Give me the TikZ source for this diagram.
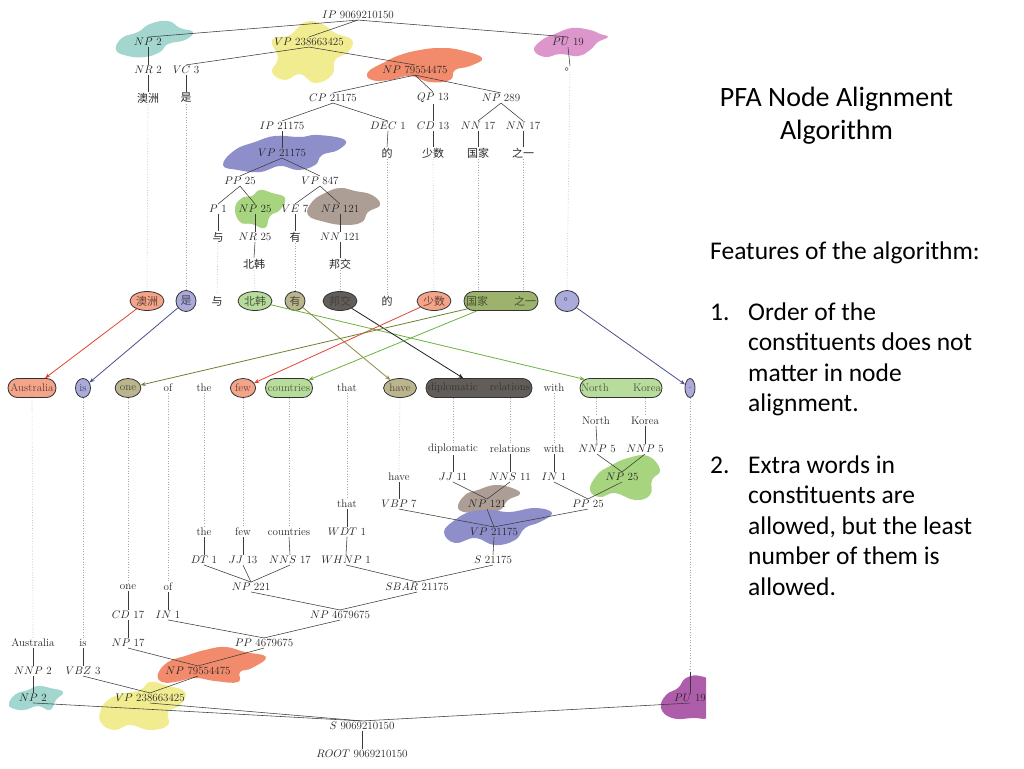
\documentclass[tikz,border=0pt]{standalone}
\usepackage{fontspec}
\newfontfamily\cjk{Noto Sans CJK SC}
\newfontfamily\calib{Carlito}
\usetikzlibrary{arrows.meta,shapes.geometric,shapes.misc}
\definecolor{cTeal}{HTML}{A2D6CE}
\definecolor{cYel}{HTML}{F2EC91}
\definecolor{cOra}{HTML}{F28B6C}
\definecolor{cPink}{HTML}{DC96CB}
\definecolor{cPur}{HTML}{8E8ECA}
\definecolor{cGrn}{HTML}{A7D47E}
\definecolor{cBrn}{HTML}{AD9E95}
\definecolor{cMag}{HTML}{AE5DAA}
\definecolor{eSal}{HTML}{F4A489}
\definecolor{ePur}{HTML}{ABABDB}
\definecolor{eLgr}{HTML}{B8DC9C}
\definecolor{eKha}{HTML}{BAB58D}
\definecolor{eDk}{HTML}{625D58}
\definecolor{eOg}{HTML}{9DB26C}
\definecolor{aRed}{HTML}{E5432F}
\definecolor{aNavy}{HTML}{4D4D8C}
\definecolor{aGrn}{HTML}{6CB23E}
\definecolor{aOl}{HTML}{8C8A45}
\definecolor{aBlk}{HTML}{1E1E1E}
\definecolor{aOg}{HTML}{6F8030}
\definecolor{treeC}{HTML}{3A3A3A}
\definecolor{dotC}{HTML}{A8A8A8}
\tikzset{
  lab/.style={font=\fontsize{11}{13}\selectfont, inner sep=1pt, text=black!85},
  zh/.style={font=\cjk\fontsize{11}{13}\selectfont, inner sep=1pt, text=black!85},
  tr/.style={draw=treeC, line width=0.55pt},
  dt/.style={draw=dotC, dotted, line width=0.6pt},
  hl/.style={draw=black!80, line width=0.8pt, ellipse, inner sep=0pt, minimum height=19pt},
  hlr/.style={draw=black!80, line width=0.8pt, rounded rectangle, inner sep=0pt, minimum height=19pt},
  ar/.style={line width=0.8pt, -{Stealth[length=5pt,width=4pt]}},
  blob/.style={smooth cycle, tension=0.75},
  rt/.style={font=\calib\fontsize{25.5}{30}\selectfont, anchor=base west, inner sep=0pt},
  ttl/.style={font=\calib\fontsize{28}{33}\selectfont, anchor=base, inner sep=0pt}
}
\begin{document}
\begin{tikzpicture}[x=1pt,y=-1pt]
\useasboundingbox (0,0) rectangle (1024,768);
\fill[white] (0,0) rectangle (1024,768);

% ---------- blobs (top tree)
\fill[cTeal] plot[blob] coordinates {(116,50) (122,38) (138,32) (150,24) (168,21) (180,28) (193,32) (185,40) (168,44) (160,52) (145,57) (128,56)};
\fill[cYel] plot[blob] coordinates {(272,40) (290,35) (305,22) (322,24) (335,33) (352,40) (348,52) (335,60) (332,75) (315,83) (300,74) (285,80) (272,72) (278,58)};
\fill[cOra] plot[blob] coordinates {(368,72) (385,62) (400,55) (420,50) (440,48) (460,50) (482,58) (470,66) (455,70) (450,80) (430,82) (410,76) (390,80) (372,80)};
\fill[cPink] plot[blob] coordinates {(534,50) (542,40) (555,34) (572,28) (590,30) (600,34) (608,37) (598,42) (590,50) (578,56) (560,54) (545,57)};
\fill[cPur] plot[blob] coordinates {(223,165) (235,150) (255,142) (275,136) (300,137) (318,135) (345,140) (338,150) (322,155) (315,165) (298,170) (280,166) (260,172) (238,170)};
\fill[cGrn] plot[blob] coordinates {(235,208) (242,198) (252,196) (260,190) (272,193) (285,198) (280,210) (270,216) (265,228) (252,224) (240,222)};
\fill[cBrn] plot[blob] coordinates {(308,215) (312,202) (325,193) (340,188) (355,191) (372,195) (380,205) (368,212) (362,222) (345,225) (325,222)};
% ---------- blobs (bottom tree)
\fill[cGrn] plot[blob] coordinates {(590,490) (597,475) (610,466) (628,458) (648,456) (660,470) (652,480) (650,495) (635,500) (615,493) (600,497)};
\fill[cBrn] plot[blob] coordinates {(458,508) (465,495) (478,490) (495,485) (512,488) (520,494) (508,500) (500,510) (485,512) (470,513)};
\fill[cPur] plot[blob] coordinates {(444,532) (455,520) (470,512) (490,510) (510,512) (535,508) (552,513) (540,522) (525,528) (515,540) (495,545) (475,538) (455,543)};
\fill[cOra] plot[blob] coordinates {(158,674) (168,662) (185,656) (205,650) (225,647) (245,652) (266,657) (252,668) (240,672) (238,682) (215,681) (195,678) (175,682) (162,682)};
\fill[cTeal] plot[blob] coordinates {(9,703) (16,694) (28,690) (38,686) (50,688) (63,692) (56,700) (50,710) (38,706) (24,710) (12,708)};
\fill[cYel] plot[blob] coordinates {(100,712) (108,700) (122,694) (140,690) (150,682) (165,685) (185,692) (180,705) (168,712) (168,725) (150,730) (130,725) (115,730) (102,724)};
\begin{scope}
\clip (0,0) rectangle (706,768);
\fill[cMag] plot[blob] coordinates {(661,708) (666,695) (678,688) (686,678) (700,676) (712,685) (712,715) (692,718) (672,718)};
\node[lab] (bPU) at (690,698) {$PU$ 19};
\end{scope}

% ---------- top tree
\node[lab] (tIP) at (358,15) {$IP$ 9069210150};
\node[lab] (tNP2) at (148,42) {$NP$ 2};
\node[lab] (tVP) at (309,42) {$VP$ 238663425};
\node[lab] (tPU) at (568,42) {$PU$ 19};
\node[lab] (tNR) at (148,70) {$NR$ 2};
\node[lab] (tVC) at (186,70) {$VC$ 3};
\node[lab] (tNP795) at (415,70) {$NP$ 79554475};
\node[zh] (tPer) at (570,69) {。};
\node[zh] (tAo) at (148,98) {澳洲};
\node[zh] (tShi) at (186,98) {是};
\node[lab] (tCP) at (333,98) {$CP$ 21175};
\node[lab] (tQP) at (433,98) {$QP$ 13};
\node[lab] (tNP289) at (501,98) {$NP$ 289};
\node[lab] (tIP2) at (282,126) {$IP$ 21175};
\node[lab] (tDEC) at (388,126) {$DEC$ 1};
\node[lab] (tCD) at (433,126) {$CD$ 13};
\node[lab] (tNN1) at (478,126) {$NN$ 17};
\node[lab] (tNN2) at (523,126) {$NN$ 17};
\node[lab] (tVP2) at (282,153) {$VP$ 21175};
\node[zh] (tDe) at (387,153) {的};
\node[zh] (tShao) at (433,153) {少数};
\node[zh] (tGuo) at (478,153) {国家};
\node[zh] (tZhi) at (523,153) {之一};
\node[lab] (tPP) at (240,181) {$PP$ 25};
\node[lab] (tVP847) at (320,181) {$VP$ 847};
\node[lab] (tP) at (218,209) {$P$ 1};
\node[lab] (tNP25) at (255,209) {$NP$ 25};
\node[lab] (tVE) at (295,209) {$VE$ 7};
\node[lab] (tNP121) at (340,209) {$NP$ 121};
\node[zh] (tYu) at (218,237) {与};
\node[lab] (tNR25) at (255,237) {$NR$ 25};
\node[zh] (tYou) at (295,237) {有};
\node[lab] (tNN121) at (340,237) {$NN$ 121};
\node[zh] (tBei) at (254,264) {北韩};
\node[zh] (tBang) at (340,264) {邦交};

\foreach \p/\c in {tIP/tNP2,tIP/tVP,tIP/tPU,tNP2/tNR,tNR/tAo,tVP/tVC,tVP/tNP795,tVC/tShi,
  tNP795/tCP,tNP795/tQP,tNP795/tNP289,tCP/tIP2,tCP/tDEC,tQP/tCD,tNP289/tNN1,tNP289/tNN2,
  tIP2/tVP2,tDEC/tDe,tCD/tShao,tNN1/tGuo,tNN2/tZhi,tVP2/tPP,tVP2/tVP847,tPP/tP,tPP/tNP25,
  tVP847/tVE,tVP847/tNP121,tP/tYu,tNP25/tNR25,tVE/tYou,tNP121/tNN121,tNR25/tBei,tNN121/tBang,tPU/tPer}
  \draw[tr] (\p.south) -- (\c.north);

% ---------- middle Chinese row
\node[hl, zh, fill=eSal, minimum width=31pt, text=eSal!40!black] (mAo) at (147,301) {澳洲};
\node[hl, zh, fill=ePur, minimum width=20pt, minimum height=21pt, text=ePur!40!black] (mShi) at (186,301) {是};
\node[zh] (mYu) at (217,301) {与};
\node[hl, zh, fill=eLgr, minimum width=32pt, text=eLgr!40!black] (mBei) at (255,301) {北韩};
\node[hl, zh, fill=eKha, minimum width=20pt, text=eKha!40!black] (mYou) at (295,301) {有};
\node[hl, zh, fill=eDk, minimum width=32pt, text=black!75] (mBang) at (340,301) {邦交};
\node[zh] (mDe) at (387,301) {的};
\node[hl, zh, fill=eSal, minimum width=31pt, text=eSal!40!black] (mShao) at (434,301) {少数};
\node[hlr, zh, fill=eOg, minimum width=76pt, text=eOg!45!black] (mGZ) at (501,301) {\makebox[70pt]{国家\hfill 之一}};
\node[hl, zh, fill=ePur, minimum width=14pt, minimum height=21pt, text=ePur!40!black] (mPer) at (567,301) {\hspace{4pt}\raisebox{3pt}{。}};

% ---------- English row
\node[hlr, lab, fill=eSal, minimum width=50pt, text=eSal!40!black] (eAus) at (32,388) {Australia};
\node[hl, lab, fill=ePur, minimum width=15pt, text=ePur!40!black] (eIs) at (83,388) {is};
\node[hl, lab, fill=eKha, minimum width=23pt, text=eKha!40!black] (eOne) at (128,388) {one};
\node[lab] (eOf) at (168,388) {of};
\node[lab] (eThe) at (204,388) {the};
\node[hl, lab, fill=eSal, minimum width=22pt, text=eSal!40!black] (eFew) at (243,388) {few};
\node[hlr, lab, fill=eLgr, minimum width=49pt, text=eLgr!40!black] (eCou) at (289,388) {countries};
\node[lab] (eThat) at (347,388) {that};
\node[hl, lab, fill=eKha, minimum width=28pt, text=eKha!40!black] (eHave) at (400,388) {have};
\node[hlr, lab, fill=eDk, minimum width=108pt, text=black!80] (eDR) at (479,388) {\makebox[102pt]{diplomatic\hfill relations}};
\node[lab] (eWith) at (554,388) {with};
\node[hlr, lab, fill=eLgr, minimum width=84pt, text=eLgr!40!black] (eNK) at (621,388) {\makebox[80pt]{North\hfill Korea}};
\node[hl, lab, fill=ePur, minimum width=10pt, text=ePur!40!black] (eDot) at (690,388) {.};

% ---------- dotted guides top -> middle
\foreach \a/\b in {tAo/mAo,tShi/mShi,tYu/mYu,tBei/mBei,tYou/mYou,tBang/mBang,tDe/mDe,tShao/mShao,tPer/mPer}
  \draw[dt] (\a.south) -- (\b.north);
\draw[dt] (tGuo.south) -- (tGuo.south |- mGZ.north);
\draw[dt] (tZhi.south) -- (tZhi.south |- mGZ.north);

% ---------- alignment arrows
\draw[ar, aRed] (mAo) -- (eAus);
\draw[ar, aNavy] (mShi) -- (eIs);
\draw[ar, aGrn] (mBei) -- (eNK);
\draw[ar, aOl] (mYou) -- (eHave);
\draw[ar, aBlk] (mBang) -- (eDR);
\draw[ar, aRed] (mShao) -- (eFew);
\draw[ar, aOg] (mGZ) -- (eOne);
\draw[ar, aGrn] (mGZ) -- (eCou);
\draw[ar, aNavy] (mPer) -- (eDot);

% ---------- bottom tree
\node[lab] (bNorth) at (596,421) {North};
\node[lab] (bKorea) at (645,421) {Korea};
\node[lab] (bDip) at (453,449) {diplomatic};
\node[lab] (bRel) at (510,449) {relations};
\node[lab] (bWith) at (554,449) {with};
\node[lab] (bNNP1) at (597,449) {$NNP$ 5};
\node[lab] (bNNP2) at (645,449) {$NNP$ 5};
\node[lab] (bHave) at (399,477) {have};
\node[lab] (bJJ) at (453,477) {$JJ$ 11};
\node[lab] (bNNS) at (510,477) {$NNS$ 11};
\node[lab] (bIN) at (554,477) {$IN$ 1};
\node[lab] (bNP25) at (622,477) {$NP$ 25};
\node[lab] (bThat) at (347,504) {that};
\node[lab] (bVBP) at (399,504) {$VBP$ 7};
\node[lab] (bNP121) at (487,504) {$NP$ 121};
\node[lab] (bPP) at (588,504) {$PP$ 25};
\node[lab] (bThe) at (204,532) {the};
\node[lab] (bFew) at (243,532) {few};
\node[lab] (bCou) at (289,532) {countries};
\node[lab] (bWDT) at (347,532) {$WDT$ 1};
\node[lab] (bVP) at (494,532) {$VP$ 21175};
\node[lab] (bDT) at (204,560) {$DT$ 1};
\node[lab] (bJJ13) at (243,560) {$JJ$ 13};
\node[lab] (bNNS17) at (290,560) {$NNS$ 17};
\node[lab] (bWHNP) at (346,560) {$WHNP$ 1};
\node[lab] (bS2) at (493,560) {$S$ 21175};
\node[lab] (bOne) at (128,587) {one};
\node[lab] (bOf) at (168,587) {of};
\node[lab] (bNP221) at (251,587) {$NP$ 221};
\node[lab] (bSBAR) at (417,587) {$SBAR$ 21175};
\node[lab] (bCD) at (128,615) {$CD$ 17};
\node[lab] (bIN1) at (168,615) {$IN$ 1};
\node[lab] (bNP467) at (340,615) {$NP$ 4679675};
\node[lab] (bAus) at (33,643) {Australia};
\node[lab] (bIs) at (83,643) {is};
\node[lab] (bNP17) at (128,643) {$NP$ 17};
\node[lab] (bPP467) at (264,643) {$PP$ 4679675};
\node[lab] (bNNP2a) at (33,671) {$NNP$ 2};
\node[lab] (bVBZ) at (83,671) {$VBZ$ 3};
\node[lab] (bNP795) at (198,671) {$NP$ 79554475};
\node[lab, text=aRed!60!black] (bDot) at (690,670) {.};
\node[lab] (bNP2) at (33,698) {$NP$ 2};
\node[lab] (bVP238) at (150,698) {$VP$ 238663425};
\node[lab] (bS) at (362,726) {$S$ 9069210150};
\node[lab] (bROOT) at (362,754) {$ROOT$ 9069210150};

\foreach \c/\p in {bNorth/bNNP1,bKorea/bNNP2,bNNP1/bNP25,bNNP2/bNP25,bDip/bJJ,bRel/bNNS,bWith/bIN,
  bJJ/bNP121,bNNS/bNP121,bIN/bPP,bNP25/bPP,bHave/bVBP,bVBP/bVP,bNP121/bVP,bPP/bVP,
  bThat/bWDT,bWDT/bWHNP,bVP/bS2,bWHNP/bSBAR,bS2/bSBAR,bThe/bDT,bFew/bJJ13,bCou/bNNS17,
  bDT/bNP221,bJJ13/bNP221,bNNS17/bNP221,bNP221/bNP467,bSBAR/bNP467,bOne/bCD,bCD/bNP17,
  bOf/bIN1,bIN1/bPP467,bNP467/bPP467,bNP17/bNP795,bPP467/bNP795,bAus/bNNP2a,bNNP2a/bNP2,
  bIs/bVBZ,bVBZ/bVP238,bNP795/bVP238,bNP2/bS,bVP238/bS,bPU/bS,bS/bROOT,bDot/bPU}
  \draw[tr] (\c.south) -- (\p.north);

% ---------- dotted guides English -> bottom
\foreach \a/\b in {eAus/bAus,eIs/bIs,eOne/bOne,eOf/bOf,eThe/bThe,eFew/bFew,eCou/bCou,eThat/bThat,eHave/bHave,eWith/bWith,eDot/bDot}
  \draw[dt] (\a.south) -- (\b.north);
\draw[dt] (bDip.north |- eDR.south) -- (bDip.north);
\draw[dt] (bRel.north |- eDR.south) -- (bRel.north);
\draw[dt] (bNorth.north |- eNK.south) -- (bNorth.north);
\draw[dt] (bKorea.north |- eNK.south) -- (bKorea.north);

% ---------- right-hand text
\node[ttl] (t1) at (836.5,106) {PFA Node Alignment};
\node[ttl] (t2) at (836.5,139) {Algorithm};
\node[rt] (f0) at (710,259) {Features of the algorithm:};
\node[rt] (n1) at (710,320) {1.};
\node[rt] (l1) at (748,320) {Order of the};
\node[rt] (l2) at (748,350.5) {constituents does not};
\node[rt] (l3) at (748,381) {matter in node};
\node[rt] (l4) at (748,411.5) {alignment.};
\node[rt] (n2) at (710,473) {2.};
\node[rt] (l5) at (748,473) {Extra words in};
\node[rt] (l6) at (748,503.5) {constituents are};
\node[rt] (l7) at (748,534) {allowed, but the least};
\node[rt] (l8) at (748,564.5) {number of them is};
\node[rt] (l9) at (748,595) {allowed.};
\end{tikzpicture}
\end{document}
